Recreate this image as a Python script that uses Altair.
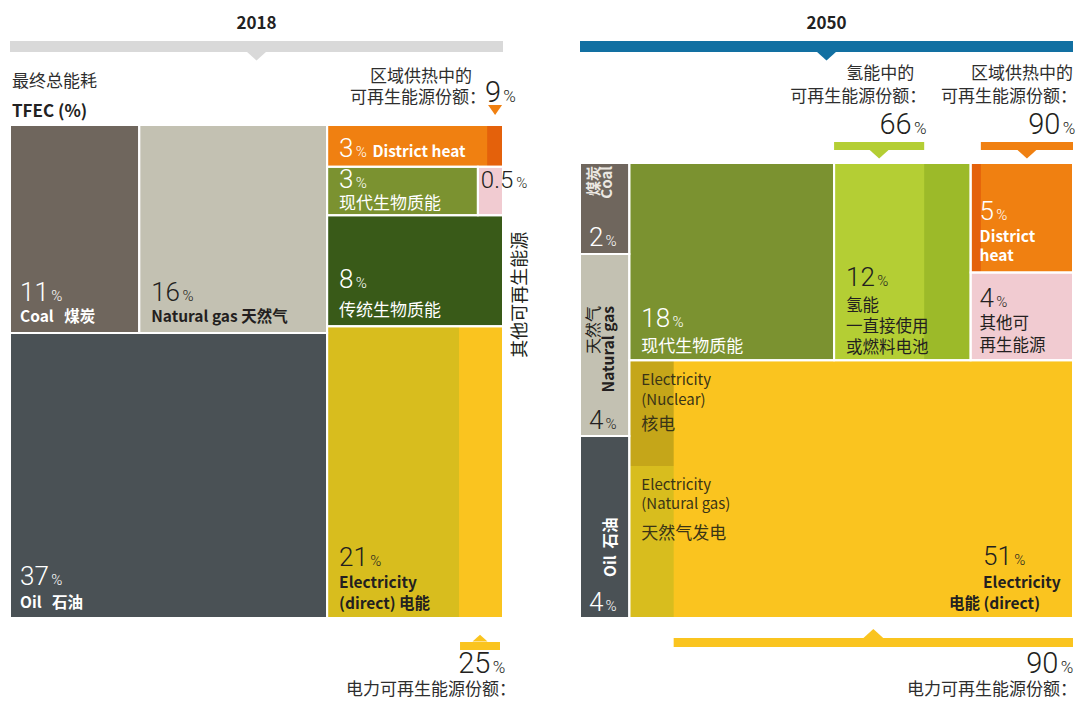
import altair as alt
import pandas as pd

# ---------------- values ----------------
keys_2018 = ["coal", "gas", "oil", "dh", "bio", "other", "trad", "elec"]
share_2018 = [11, 16, 37, 3, 3, 0.5, 8, 21]          # % of TFEC, 2018

keys_2050 = ["coal", "gas", "oil", "bio", "h2", "dh", "other", "elec"]
share_2050 = [2, 4, 4, 18, 12, 5, 4, 51]              # % of TFEC, 2050

ren_share_dh_2018 = 9      # renewable share in district heat, 2018
ren_share_el_2018 = 25     # renewable share in power, 2018
ren_share_h2_2050 = 66     # renewable share in hydrogen, 2050
ren_share_dh_2050 = 90     # renewable share in district heat, 2050
ren_share_el_2050 = 90     # renewable share in power, 2050
nuclear_of_nonren_el_2050 = 41   # nuclear part of the non-renewable power strip (estimated)

# ---------------- texts ----------------
NB = "\u00a0"
year_titles = ["2018", "2050"]
tfec_titles = ["最终总能耗", "TFEC (%)"]
dh_ren_title = ["区域供热中的", "可再生能源份额："]
h2_ren_title = ["氢能中的", "可再生能源份额："]
el_ren_title = ["电力可再生能源份额："]
names_2018 = {
    "coal": ["Coal" + NB * 3 + "煤炭"], "gas": ["Natural gas" + NB + "天然气"],
    "oil": ["Oil" + NB * 3 + "石油"],
    "dh": ["District heat"], "bio": ["现代生物质能"], "trad": ["传统生物质能"],
    "elec": ["Electricity", "(direct)" + NB + "电能"], "other": ["其他可再生能源"],
}
names_2050 = {
    "coal": ["煤炭", "Coal"], "gas": ["天然气", "Natural gas"], "oil": ["Oil" + NB * 2 + "石油"],
    "bio": ["现代生物质能"], "h2": ["氢能", "一直接使用", "或燃料电池"],
    "dh": ["District", "heat"], "other": ["其他可", "再生能源"],
    "elec": ["Electricity", "电能" + NB + "(direct)"],
    "nuclear": ["Electricity", "(Nuclear)", "核电"],
    "gaspower": ["Electricity", "(Natural gas)", "天然气发电"],
}

colors = {
    "coal": "#6f665d", "gas": "#c3c1b2", "oil": "#4a5155",
    "dh": "#f08011", "dh_dark": "#e4610b", "bio": "#7b9230", "trad": "#395a18",
    "other": "#f1cbd1", "elec_nonren": "#d8bd1e", "elec_ren": "#fac41f",
    "h2_ren": "#b4ce34", "h2_nonren": "#9cba29", "nuclear": "#c5a619",
    "bar2018": "#d9d9d9", "bar2050": "#1270a2",
}
WHITE = "#ffffff"
DARK = "#231f20"
GREY_TXT = "#2e2e2e"
CJK = "Noto Sans CJK SC"
NUM = "Roboto"

# ---------------- layout (page pixels) ----------------
CW, CH = 1069, 692
P18 = dict(x0=10, y0=125, W=493, H=493)
P50 = dict(x0=580, y0=163, W=493, H=455)


def layout_2018(p):
    s = dict(zip(keys_2018, share_2018))
    x0, y0, W, H = p["x0"], p["y0"], p["W"], p["H"]
    total = sum(share_2018)
    fossil = s["coal"] + s["gas"] + s["oil"]
    wl = W * fossil / total
    ht = H * (s["coal"] + s["gas"]) / fossil
    wc = wl * s["coal"] / (s["coal"] + s["gas"])
    c = {"coal": (x0, x0 + wc, y0, y0 + ht),
         "gas": (x0 + wc, x0 + wl, y0, y0 + ht),
         "oil": (x0, x0 + wl, y0 + ht, y0 + H)}
    rest = total - fossil
    xr0, xr1 = x0 + wl, x0 + W
    y = y0
    for row in [["dh"], ["bio", "other"], ["trad"], ["elec"]]:
        rs = sum(s[k] for k in row)
        h = H * rs / rest
        x = xr0
        for k in row:
            w = (xr1 - xr0) * s[k] / rs
            c[k] = (x, x + w, y, y + h)
            x += w
        y += h
    return c


def layout_2050(p):
    s = dict(zip(keys_2050, share_2050))
    x0, y0, W, H = p["x0"], p["y0"], p["W"], p["H"]
    total = sum(share_2050)
    fossil = s["coal"] + s["gas"] + s["oil"]
    wl = W * fossil / total
    c = {}
    y = y0
    for k in ["coal", "gas", "oil"]:
        h = H * s[k] / fossil
        c[k] = (x0, x0 + wl, y, y + h)
        y += h
    rest = total - fossil
    top = s["bio"] + s["h2"] + s["dh"] + s["other"]
    ht = H * top / rest
    xr0 = x0 + wl
    wr = W - wl
    x = xr0
    for grp in [["bio"], ["h2"], ["dh", "other"]]:
        gs = sum(s[k] for k in grp)
        w = wr * gs / top
        yy = y0
        for k in grp:
            h = ht * s[k] / gs
            c[k] = (x, x + w, yy, yy + h)
            yy += h
        x += w
    c["elec"] = (xr0, x0 + W, y0 + ht, y0 + H)
    return c


c18 = layout_2018(P18)
c50 = layout_2050(P50)
v18 = dict(zip(keys_2018, share_2018))
v50 = dict(zip(keys_2050, share_2050))

# main cells
cells = []
for k, (a, b, t, u) in c18.items():
    fill = colors["elec_nonren"] if k == "elec" else colors[k]
    cells.append(dict(x=a, x2=b, y=t, y2=u, fill=fill))
main50 = {"elec": "elec_ren", "h2": "h2_nonren"}
for k, (a, b, t, u) in c50.items():
    cells.append(dict(x=a, x2=b, y=t, y2=u, fill=colors[main50.get(k, k)]))

# sub-parts (renewable / non-renewable shares)
subs = []
a, b, t, u = c18["dh"]
r18dh = (b - (b - a) * ren_share_dh_2018 / 100, b)
subs.append(dict(x=r18dh[0], x2=b, y=t, y2=u, fill=colors["dh_dark"]))
a, b, t, u = c18["elec"]
r18el = (b - (b - a) * ren_share_el_2018 / 100, b)
subs.append(dict(x=r18el[0], x2=b, y=t, y2=u, fill=colors["elec_ren"]))
a, b, t, u = c50["h2"]
r50h2 = (a, a + (b - a) * ren_share_h2_2050 / 100)
subs.append(dict(x=a, x2=r50h2[1], y=t, y2=u, fill=colors["h2_ren"]))
a, b, t, u = c50["dh"]
r50dh = (a + (b - a) * (100 - ren_share_dh_2050) / 100, b)
subs.append(dict(x=a, x2=r50dh[0], y=t, y2=u, fill=colors["dh_dark"]))
a, b, t, u = c50["elec"]
r50el = (a + (b - a) * (100 - ren_share_el_2050) / 100, b)
ynuc = t + (u - t) * nuclear_of_nonren_el_2050 / 100
subs.append(dict(x=a, x2=r50el[0], y=t, y2=ynuc, fill=colors["nuclear"]))
subs.append(dict(x=a, x2=r50el[0], y=ynuc, y2=u, fill=colors["elec_nonren"]))

# header bars and renewable-share brackets
bars = []
tris = []   # x, y, fill, kind(down/up), size
for p, col in [(P18, colors["bar2018"]), (P50, colors["bar2050"])]:
    bars.append(dict(x=p["x0"], x2=p["x0"] + p["W"], y=41, y2=52, fill=col))
    tris.append(dict(x=p["x0"] + p["W"] / 2, y=56, fill=col, kind="down", size=400))
# 2018 district heat marker
tris.append(dict(x=(r18dh[0] + r18dh[1]) / 2, y=P18["y0"] - 15, fill=colors["dh"], kind="down_t", size=196))
# 2018 electricity bracket
b18 = P18["y0"] + P18["H"]
bars.append(dict(x=r18el[0] + 1, x2=r18el[1] - 3, y=b18 + 24, y2=b18 + 32, fill=colors["elec_ren"]))
tris.append(dict(x=(r18el[0] + r18el[1] - 2) / 2, y=b18 + 20, fill=colors["elec_ren"], kind="up", size=225))
# 2050 hydrogen and district-heat brackets
t50 = P50["y0"]
for (ra, rb), col in [(r50h2, colors["h2_ren"]), (r50dh, colors["dh"])]:
    bars.append(dict(x=ra, x2=rb, y=t50 - 21, y2=t50 - 13, fill=col))
    tris.append(dict(x=(ra + rb) / 2, y=t50 - 9, fill=col, kind="down", size=400))
# 2050 electricity bracket
b50 = P50["y0"] + P50["H"]
bars.append(dict(x=r50el[0], x2=r50el[1], y=b50 + 20, y2=b50 + 29, fill=colors["elec_ren"]))
tris.append(dict(x=(r50el[0] + r50el[1]) / 2, y=b50 + 16, fill=colors["elec_ren"], kind="up", size=484))

# ---------------- text ----------------
rows = []


def T(x, y, t, font=CJK, size=15, weight="normal", color=DARK, align="left",
      angle=0, baseline="alphabetic"):
    rows.append(dict(x=x, y=y, t=t, style=(font, size, weight, color, align, angle, baseline)))


CHW = {".": 0.263}


def nwidth(s, size):
    return sum(CHW.get(ch, 0.5615) for ch in s) * size


def pct(x, y, v, color, size=26, psize=15, anchor="left"):
    s = f"{v:g}"
    wn = nwidth(s, size)
    wp = 0.715 * psize
    if anchor == "right":
        x = x - wn - 2 - wp
    T(x, y, s, font=NUM, size=size, weight=300, color=color)
    T(x + wn + 2, y, "%", font=NUM, size=psize, weight=300, color=color)
    return x + wn + 2 + wp


# headings
for p, yt in zip([P18, P50], year_titles):
    T(p["x0"] + p["W"] / 2, 29, yt, size=17, weight="bold", color="#222222", align="center")
T(P18["x0"] + 2, 87, tfec_titles[0], size=17, color=GREY_TXT)
T(P18["x0"] + 2, 117, tfec_titles[1], size=17, weight="bold", color="#222222")

# 2018 district heat annotation
tx = (r18dh[0] + r18dh[1]) / 2
T(tx - 23, 82, dh_ren_title[0], size=17, color=GREY_TXT, align="right")
T(tx - 9, 103, dh_ren_title[1], size=17, color=GREY_TXT, align="right")
pct(tx - 10, 102, ren_share_dh_2018, DARK, size=29, psize=17)

# 2018 cells
a, b, t, u = c18["coal"]
pct(a + 10, u - 32, v18["coal"], WHITE)
T(a + 10, u - 11, names_2018["coal"][0], size=15.5, weight="bold", color=WHITE)
a, b, t, u = c18["gas"]
pct(a + 12, u - 32, v18["gas"], DARK)
T(a + 12, u - 11, names_2018["gas"][0], size=15.5, weight="bold", color=DARK)
a, b, t, u = c18["oil"]
pct(a + 10, u - 33, v18["oil"], WHITE)
T(a + 10, u - 10, names_2018["oil"][0], size=15.5, weight="bold", color=WHITE)
a, b, t, u = c18["dh"]
e = pct(a + 12, u - 10, v18["dh"], WHITE)
T(e + 6, u - 10, names_2018["dh"][0], size=15.5, weight="bold", color=WHITE)
a, b, t, u = c18["bio"]
pct(a + 12, u - 27, v18["bio"], WHITE)
T(a + 12, u - 6, names_2018["bio"][0], size=17, color=WHITE)
a, b, t, u = c18["other"]
pct(a + 3, u - 27, v18["other"], DARK, size=24, psize=15)
a, b, t, u = c18["trad"]
pct(a + 12, u - 38, v18["trad"], WHITE)
T(a + 12, u - 10, names_2018["trad"][0], size=17, color=WHITE)
T(P18["x0"] + P18["W"] + 18, (t + u) / 2 + 24, names_2018["other"][0], size=18, color=DARK,
  align="center", angle=270, baseline="middle")
a, b, t, u = c18["elec"]
pct(a + 12, u - 52, v18["elec"], DARK)
T(a + 12, u - 30, names_2018["elec"][0], size=15.5, weight="bold", color=DARK)
T(a + 12, u - 9, names_2018["elec"][1], size=15.5, weight="bold", color=DARK)

# 2018 electricity annotation
pct(r18el[1] + 2, b18 + 55, ren_share_el_2018, DARK, size=29, psize=17, anchor="right")
T(r18el[1] + 13, b18 + 77, el_ren_title[0], size=17, color=GREY_TXT, align="right")

# 2050 annotations
T(r50h2[1] - 10, 79, h2_ren_title[0], size=17, color=GREY_TXT, align="right")
T(r50h2[1] + 2, 102, h2_ren_title[1], size=17, color=GREY_TXT, align="right")
pct(r50h2[1] + 2, 134, ren_share_h2_2050, DARK, size=29, psize=17, anchor="right")
T(r50dh[1], 79, dh_ren_title[0], size=17, color=GREY_TXT, align="right")
T(8 + CW, 102, dh_ren_title[1], size=17, color=GREY_TXT, align="right")
pct(r50dh[1] + 2, 134, ren_share_dh_2050, DARK, size=29, psize=17, anchor="right")
pct(r50el[1], b50 + 55, ren_share_el_2050, DARK, size=29, psize=17, anchor="right")
T(8 + CW, b50 + 77, el_ren_title[0], size=17, color=GREY_TXT, align="right")

# 2050 fossil column (rotated names)
a, b, t, u = c50["coal"]
T(a + 14, t + 3, names_2050["coal"][0], size=15, weight="bold", color="#ece8e2", align="right", angle=270, baseline="middle")
T(a + 27, t + 3, names_2050["coal"][1], size=15, weight="bold", color="#ece8e2", align="right", angle=270, baseline="middle")
pct(a + 9, u - 8, v50["coal"], WHITE)
a, b, t, u = c50["gas"]
T(a + 14, t + 52, names_2050["gas"][0], size=16, color=DARK, align="right", angle=270, baseline="middle")
T(a + 29, t + 52, names_2050["gas"][1], size=15.5, weight="bold", color=DARK, align="right", angle=270, baseline="middle")
pct(a + 9, u - 7, v50["gas"], DARK)
a, b, t, u = c50["oil"]
T(a + 31, u - 41, names_2050["oil"][0], size=15.5, weight="bold", color=WHITE, align="left", angle=270, baseline="middle")
pct(a + 9, u - 7, v50["oil"], WHITE)

# 2050 cells
a, b, t, u = c50["bio"]
pct(a + 12, u - 33, v50["bio"], WHITE)
T(a + 12, u - 8, names_2050["bio"][0], size=17, color=WHITE)
a, b, t, u = c50["h2"]
pct(a + 12, u - 74, v50["h2"], DARK)
for i, line in enumerate(names_2050["h2"]):
    T(a + 12, u - 49 + 21 * i, line, size=16.5, color=DARK)
a, b, t, u = c50["dh"]
pct(a + 9, u - 53, v50["dh"], WHITE)
T(a + 9, u - 31, names_2050["dh"][0], size=15.5, weight="bold", color=WHITE)
T(a + 9, u - 12, names_2050["dh"][1], size=15.5, weight="bold", color=WHITE)
a, b, t, u = c50["other"]
pct(a + 9, u - 53, v50["other"], DARK)
T(a + 9, u - 31, names_2050["other"][0], size=16.5, color=DARK)
T(a + 9, u - 9, names_2050["other"][1], size=16.5, color=DARK)
a, b, t, u = c50["elec"]
for i, (line, dy) in enumerate(zip(names_2050["nuclear"], [25, 45, 70])):
    T(a + 12, t + dy, line, size=17 if i == 2 else 15, color="#3a3416")
for i, (line, dy) in enumerate(zip(names_2050["gaspower"], [24, 43, 73])):
    T(a + 12, ynuc + dy, line, size=17 if i == 2 else 15, color="#3a3416")
pct(b - 90, u - 53, v50["elec"], DARK)
T(b - 90, u - 30, names_2050["elec"][0], size=15.5, weight="bold", color=DARK)
T(b - 33, u - 9, names_2050["elec"][1], size=15.5, weight="bold", color=DARK, align="right")

# ---------------- chart ----------------
XS = alt.Scale(domain=[8, 8 + CW], nice=False, zero=False)
YS = alt.Scale(domain=[8, 8 + CH], nice=False, zero=False, reverse=True)


def X(f):
    return alt.X(f"{f}:Q", scale=XS, axis=None)


def Y(f):
    return alt.Y(f"{f}:Q", scale=YS, axis=None)


def rect_layer(data, **kw):
    return alt.Chart(pd.DataFrame(data)).mark_rect(**kw).encode(
        x=X("x"), x2="x2", y=Y("y"), y2="y2",
        color=alt.Color("fill:N", scale=None, legend=None))


layers = [
    rect_layer(cells),
    rect_layer(subs),
    alt.Chart(pd.DataFrame(cells)).mark_rect(fillOpacity=0, stroke=WHITE, strokeWidth=2).encode(
        x=X("x"), x2="x2", y=Y("y"), y2="y2"),
    rect_layer(bars),
]

tri_df = pd.DataFrame(tris)
paths = {"down": "M-1,-0.45L1,-0.45L0,0.45Z", "up": "M-1,0.45L1,0.45L0,-0.45Z",
         "down_t": "M-1,-0.7L1,-0.7L0,0.7Z"}
for kind, path in paths.items():
    sel = tri_df[tri_df.kind == kind]
    for size in sorted(set(sel["size"])):
        g = sel[sel["size"] == size][["x", "y", "fill"]]
        layers.append(alt.Chart(g).mark_point(shape=path, filled=True, size=float(size), opacity=1, strokeWidth=0).encode(
            x=X("x"), y=Y("y"), color=alt.Color("fill:N", scale=None, legend=None)))

groups = {}
for r in rows:
    groups.setdefault(r["style"], []).append(dict(x=r["x"], y=r["y"], t=r["t"]))
for style, data in groups.items():
    font, size, weight, color, align, angle, baseline = style
    kw = dict(font=font, fontSize=size, fontWeight=weight, color=color, align=align, baseline=baseline)
    if angle:
        kw["angle"] = angle
    layers.append(alt.Chart(pd.DataFrame(data)).mark_text(**kw).encode(x=X("x"), y=Y("y"), text="t:N"))

chart = alt.layer(*layers).properties(
    width=CW, height=CH, padding=0, background="white",
    autosize=alt.AutoSizeParams(type="none"),
).configure_view(strokeWidth=0)

chart.save("out.html", embed_options={"renderer": "svg", "actions": False})
